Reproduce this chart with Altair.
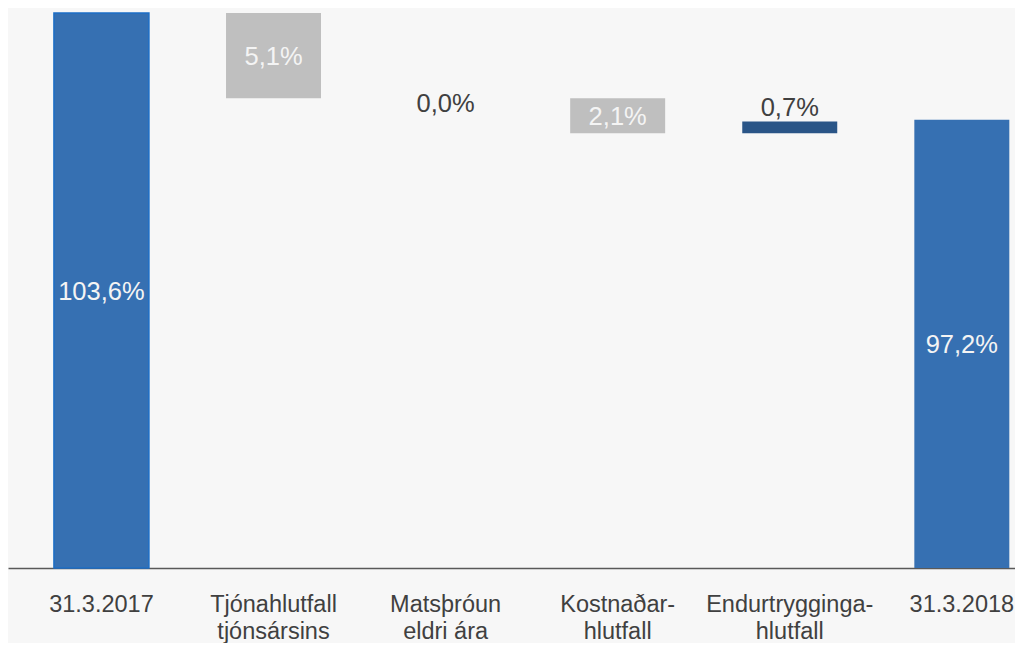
import altair as alt
import pandas as pd

categories = ["31.3.2017", "Tjónahlutfall|tjónsársins", "Matsþróun|eldri ára",
              "Kostnaðar-|hlutfall", "Endurtrygginga-|hlutfall", "31.3.2018"]
values = [103.6, -5.1, 0.0, -2.1, 0.7, 97.2]
kinds = ["total", "delta", "delta", "delta", "delta", "total"]
labels = ["103,6%", "5,1%", "0,0%", "2,1%", "0,7%", "97,2%"]
label_pos = ["inside", "inside", "below", "inside", "above", "inside"]

Y_MIN, Y_MAX = 70.35, 103.9

rows = []
running = 0.0
for c, v, k, l, p in zip(categories, values, kinds, labels, label_pos):
    if k == "total":
        start, end = Y_MIN, v
        running = v
        color = "total"
    else:
        start, end = running, running + v
        running = end
        color = "up" if v > 0 else "down"
    rows.append(dict(cat=c, start=start, end=end, color=color, label=l, pos=p,
                     mid=(start + end) / 2, top=max(start, end), first=(c == categories[0])))
df = pd.DataFrame(rows)

FONT = "Liberation Sans"
ycale = alt.Scale(domain=[Y_MIN, Y_MAX], clamp=True, zero=False, nice=False)
xscale = alt.Scale(paddingInner=0.448, paddingOuter=0.15, align=0.89)

xenc = alt.X("cat:N", sort=categories, scale=xscale, title=None,
             axis=alt.Axis(labelExpr="split(datum.label, '|')", labelAngle=0,
                           ticks=False, domainColor="#595959", domainWidth=1.5,
                           labelFont=FONT, labelFontSize=23.5, labelColor="#404040",
                           labelPadding=24, labelLineHeight=27))

base = alt.Chart(df)

bars = base.mark_bar(strokeWidth=1.5).encode(
    x=xenc,
    y=alt.Y("end:Q", scale=ycale, axis=None),
    y2="start:Q",
    color=alt.Color("color:N", scale=alt.Scale(domain=["total", "down", "up"],
                                               range=["#3670B2", "#BFBFBF", "#2A5587"]),
                    legend=None),
    stroke=alt.condition("datum.first", alt.value("#1C6EC6"), alt.value(None)),
)

inside = base.transform_filter("datum.pos == 'inside'").mark_text(
    font=FONT, fontSize=25.5, color="#F4F4F4", baseline="middle", dy=1
).encode(x=alt.X("cat:N", sort=categories), y=alt.Y("mid:Q", scale=ycale), text="label:N")

below = base.transform_filter("datum.pos == 'below'").mark_text(
    font=FONT, fontSize=25.5, color="#404040", baseline="alphabetic", dy=14
).encode(x=alt.X("cat:N", sort=categories), y=alt.Y("top:Q", scale=ycale), text="label:N")

above = base.transform_filter("datum.pos == 'above'").mark_text(
    font=FONT, fontSize=25.5, color="#404040", baseline="alphabetic", dy=-6
).encode(x=alt.X("cat:N", sort=categories), y=alt.Y("top:Q", scale=ycale), text="label:N")

chart = alt.layer(bars, inside, below, above).properties(
    width=1007, height=560, background="#F7F7F7",
    padding={"left": 0, "top": 0, "right": 0, "bottom": 0},
).configure_view(stroke=None)

chart.save("out.html", embed_options={"renderer": "svg", "actions": False})
